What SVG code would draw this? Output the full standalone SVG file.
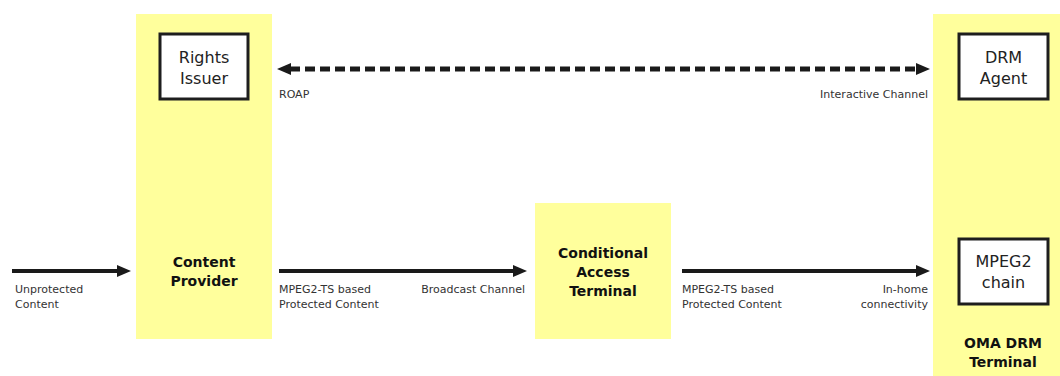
<svg xmlns="http://www.w3.org/2000/svg" width="1060" height="376" viewBox="0 0 1060 376">
<style>
.zone{fill:#ffff9c}
.box{fill:#fff;stroke:#1e1e1e;stroke-width:3}
.t{font-family:"DejaVu Sans",Verdana,sans-serif;fill:#222;text-anchor:middle}
.big{font-size:16px}
.bold{font-size:14px;font-weight:bold;fill:#111}
.lbl{font-family:"DejaVu Sans",Verdana,sans-serif;font-size:11px;fill:#333}
.end{text-anchor:end}
.arr{stroke:#1a1a1a;stroke-width:4;fill:none}
.dash{stroke:#1a1a1a;stroke-width:5;fill:none;stroke-dasharray:10 5}
</style>
<defs>
<marker id="ah" markerUnits="userSpaceOnUse" markerWidth="14" markerHeight="12" viewBox="0 0 14 12" refX="1" refY="6" orient="auto-start-reverse">
<path d="M0,0 L14,6 L0,12 z" fill="#1a1a1a"/>
</marker>
</defs>
<rect width="1060" height="376" fill="#fff"/>
<g id="content-provider">
<rect class="zone" x="136" y="14" width="136" height="325"/>
<text class="t bold" x="204" y="267">Content</text>
<text class="t bold" x="204" y="286">Provider</text>
</g>
<g id="rights-issuer">
<rect class="box" x="160" y="34" width="88" height="65"/>
<text class="t big" x="204" y="63">Rights</text>
<text class="t big" x="204" y="84">Issuer</text>
</g>
<g id="cat">
<rect class="zone" x="535" y="203" width="136" height="136"/>
<text class="t bold" x="603" y="258">Conditional</text>
<text class="t bold" x="603" y="277">Access</text>
<text class="t bold" x="603" y="296">Terminal</text>
</g>
<g id="oma-terminal">
<rect class="zone" x="933" y="14" width="127" height="362"/>
<text class="t bold" x="1003" y="348">OMA DRM</text>
<text class="t bold" x="1003" y="367">Terminal</text>
</g>
<g id="drm-agent">
<rect class="box" x="959" y="34" width="89" height="65"/>
<text class="t big" x="1003.5" y="63">DRM</text>
<text class="t big" x="1003.5" y="84">Agent</text>
</g>
<g id="mpeg2-chain">
<rect class="box" x="959" y="239" width="89" height="65"/>
<text class="t big" x="1003.5" y="267">MPEG2</text>
<text class="t big" x="1003.5" y="288">chain</text>
</g>
<g id="connectors">
<line class="dash" x1="290" y1="69" x2="917" y2="69" marker-start="url(#ah)" marker-end="url(#ah)"/>
<line class="arr" x1="12" y1="271" x2="118" y2="271" marker-end="url(#ah)"/>
<line class="arr" x1="279" y1="271" x2="514" y2="271" marker-end="url(#ah)"/>
<line class="arr" x1="682" y1="271" x2="917" y2="271" marker-end="url(#ah)"/>
</g>
<g id="labels">
<text class="lbl" x="279" y="98">ROAP</text>
<text class="lbl end" x="928" y="98">Interactive Channel</text>
<text class="lbl" x="15" y="293">Unprotected</text>
<text class="lbl" x="15" y="308">Content</text>
<text class="lbl" x="279" y="293">MPEG2-TS based</text>
<text class="lbl" x="279" y="308">Protected Content</text>
<text class="lbl end" x="525" y="293">Broadcast Channel</text>
<text class="lbl" x="682" y="293">MPEG2-TS based</text>
<text class="lbl" x="682" y="308">Protected Content</text>
<text class="lbl end" x="928" y="293">In-home</text>
<text class="lbl end" x="928" y="308">connectivity</text>
</g>
</svg>
